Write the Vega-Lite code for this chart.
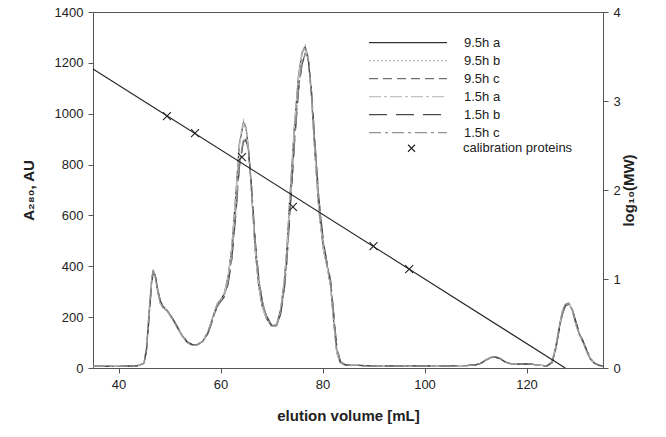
{
  "$schema": "https://vega.github.io/schema/vega-lite/v6.json",
  "width": 510,
  "height": 356,
  "autosize": "none",
  "padding": {"left": 93, "top": 12, "right": 63, "bottom": 69},
  "background": "white",
  "config": {
    "view": {"stroke": "#555", "strokeWidth": 1},
    "font": "Liberation Sans",
    "axis": {
      "domainColor": "#555", "tickColor": "#555", "tickSize": 5, "grid": false,
      "labelFont": "Liberation Sans", "labelFontSize": 13, "labelColor": "#222",
      "titleFont": "Liberation Sans", "titleFontSize": 15, "titleFontWeight": "bold", "titleColor": "#222",
      "labelPadding": 5
    },
    "legend": {
      "padding": 0, "title": null, "labelFont": "Liberation Sans", "labelFontSize": 13, "labelColor": "#222",
      "clipHeight": 17.3, "rowPadding": 0, "orient": "none"
    }
  },
  "layer": [
    {
      "data": {"values": [
        {"v":35,"a":6,"b":6,"c":6,"d":6,"e":6,"f":6},
        {"v":40,"a":6,"b":6,"c":6,"d":6,"e":6,"f":6},
        {"v":43,"a":8,"b":8,"c":8,"d":8,"e":8,"f":8},
        {"v":44,"a":10,"b":10,"c":10,"d":10,"e":10,"f":10},
        {"v":45,"a":20,"b":21,"c":18,"d":20,"e":18,"f":19},
        {"v":45.5,"a":80,"b":85,"c":70,"d":82,"e":68,"f":72},
        {"v":46,"a":220,"b":225,"c":200,"d":222,"e":198,"f":205},
        {"v":46.5,"a":350,"b":352,"c":335,"d":348,"e":332,"f":338},
        {"v":46.8,"a":385,"b":388,"c":375,"d":382,"e":372,"f":378},
        {"v":47.2,"a":360,"b":362,"c":365,"d":358,"e":366,"f":364},
        {"v":47.7,"a":300,"b":302,"c":310,"d":298,"e":312,"f":308},
        {"v":48.2,"a":255,"b":256,"c":262,"d":254,"e":264,"f":260},
        {"v":48.8,"a":236,"b":237,"c":240,"d":235,"e":241,"f":239},
        {"v":49.5,"a":225,"b":226,"c":228,"d":224,"e":229,"f":227},
        {"v":50.5,"a":195,"b":196,"c":198,"d":194,"e":199,"f":197},
        {"v":51.5,"a":160,"b":161,"c":163,"d":159,"e":164,"f":162},
        {"v":52.5,"a":125,"b":126,"c":128,"d":124,"e":129,"f":127},
        {"v":53.5,"a":100,"b":101,"c":102,"d":99,"e":103,"f":101},
        {"v":54.5,"a":90,"b":90,"c":91,"d":89,"e":92,"f":90},
        {"v":55.5,"a":92,"b":92,"c":92,"d":91,"e":93,"f":92},
        {"v":56.5,"a":105,"b":106,"c":103,"d":104,"e":103,"f":104},
        {"v":57.5,"a":140,"b":141,"c":135,"d":139,"e":134,"f":136},
        {"v":58.5,"a":200,"b":202,"c":192,"d":198,"e":190,"f":194},
        {"v":59.3,"a":250,"b":252,"c":242,"d":248,"e":240,"f":244},
        {"v":60,"a":268,"b":270,"c":262,"d":266,"e":260,"f":263},
        {"v":60.7,"a":290,"b":293,"c":280,"d":288,"e":278,"f":282},
        {"v":61.5,"a":360,"b":365,"c":335,"d":358,"e":330,"f":340},
        {"v":62.2,"a":470,"b":478,"c":430,"d":468,"e":425,"f":438},
        {"v":63,"a":680,"b":690,"c":610,"d":675,"e":600,"f":620},
        {"v":63.7,"a":880,"b":890,"c":800,"d":872,"e":790,"f":810},
        {"v":64.5,"a":965,"b":975,"c":895,"d":960,"e":890,"f":900},
        {"v":65,"a":945,"b":952,"c":900,"d":940,"e":895,"f":905},
        {"v":65.5,"a":860,"b":865,"c":850,"d":855,"e":848,"f":852},
        {"v":66,"a":720,"b":722,"c":740,"d":718,"e":742,"f":738},
        {"v":66.8,"a":464,"b":466,"c":500,"d":462,"e":505,"f":498},
        {"v":67.5,"a":320,"b":322,"c":350,"d":318,"e":355,"f":348},
        {"v":68.2,"a":240,"b":241,"c":260,"d":239,"e":262,"f":258},
        {"v":69,"a":195,"b":196,"c":205,"d":194,"e":206,"f":204},
        {"v":70,"a":165,"b":166,"c":168,"d":164,"e":169,"f":167},
        {"v":71,"a":170,"b":172,"c":165,"d":169,"e":164,"f":166},
        {"v":71.8,"a":230,"b":234,"c":215,"d":228,"e":212,"f":218},
        {"v":72.5,"a":340,"b":346,"c":310,"d":338,"e":305,"f":315},
        {"v":73,"a":464,"b":470,"c":420,"d":460,"e":415,"f":425},
        {"v":73.7,"a":700,"b":710,"c":640,"d":695,"e":632,"f":648},
        {"v":74.5,"a":950,"b":960,"c":890,"d":945,"e":882,"f":898},
        {"v":75.3,"a":1150,"b":1160,"c":1100,"d":1145,"e":1092,"f":1108},
        {"v":76,"a":1240,"b":1250,"c":1200,"d":1235,"e":1195,"f":1205},
        {"v":76.6,"a":1262,"b":1270,"c":1235,"d":1258,"e":1232,"f":1238},
        {"v":77.2,"a":1220,"b":1228,"c":1215,"d":1218,"e":1212,"f":1218},
        {"v":77.8,"a":1080,"b":1085,"c":1100,"d":1078,"e":1102,"f":1098},
        {"v":78.5,"a":850,"b":855,"c":890,"d":848,"e":895,"f":885},
        {"v":79.3,"a":620,"b":624,"c":660,"d":618,"e":665,"f":655},
        {"v":80.2,"a":464,"b":466,"c":490,"d":462,"e":494,"f":486},
        {"v":81,"a":390,"b":392,"c":400,"d":388,"e":402,"f":398},
        {"v":81.6,"a":320,"b":322,"c":340,"d":318,"e":344,"f":336},
        {"v":82.2,"a":180,"b":184,"c":210,"d":178,"e":214,"f":206},
        {"v":82.8,"a":60,"b":62,"c":80,"d":58,"e":84,"f":76},
        {"v":83.5,"a":20,"b":20,"c":25,"d":20,"e":26,"f":24},
        {"v":84.5,"a":12,"b":12,"c":12,"d":12,"e":12,"f":12},
        {"v":90,"a":8,"b":8,"c":8,"d":8,"e":8,"f":8},
        {"v":100,"a":8,"b":8,"c":8,"d":8,"e":8,"f":8},
        {"v":108,"a":9,"b":9,"c":9,"d":9,"e":9,"f":9},
        {"v":110,"a":12,"b":12,"c":12,"d":12,"e":12,"f":12},
        {"v":111,"a":18,"b":18,"c":18,"d":18,"e":18,"f":18},
        {"v":112,"a":32,"b":32,"c":30,"d":32,"e":30,"f":31},
        {"v":113,"a":42,"b":42,"c":40,"d":42,"e":40,"f":41},
        {"v":113.8,"a":45,"b":45,"c":43,"d":45,"e":43,"f":44},
        {"v":114.8,"a":38,"b":38,"c":37,"d":38,"e":37,"f":37},
        {"v":115.8,"a":24,"b":24,"c":24,"d":24,"e":24,"f":24},
        {"v":117,"a":16,"b":16,"c":16,"d":16,"e":16,"f":16},
        {"v":119,"a":15,"b":15,"c":15,"d":15,"e":15,"f":15},
        {"v":120.5,"a":17,"b":17,"c":16,"d":17,"e":16,"f":16},
        {"v":122,"a":12,"b":12,"c":12,"d":12,"e":12,"f":12},
        {"v":124,"a":8,"b":8,"c":8,"d":8,"e":8,"f":8},
        {"v":125,"a":25,"b":26,"c":20,"d":25,"e":20,"f":21},
        {"v":125.7,"a":80,"b":82,"c":70,"d":80,"e":68,"f":72},
        {"v":126.4,"a":160,"b":162,"c":150,"d":160,"e":148,"f":152},
        {"v":127,"a":220,"b":222,"c":210,"d":220,"e":208,"f":212},
        {"v":127.6,"a":250,"b":252,"c":245,"d":250,"e":244,"f":246},
        {"v":128.3,"a":255,"b":257,"c":252,"d":255,"e":251,"f":253},
        {"v":129,"a":225,"b":227,"c":230,"d":225,"e":231,"f":229},
        {"v":129.7,"a":170,"b":172,"c":180,"d":170,"e":182,"f":178},
        {"v":130.4,"a":130,"b":132,"c":135,"d":130,"e":136,"f":134},
        {"v":131.1,"a":100,"b":101,"c":105,"d":100,"e":106,"f":104},
        {"v":131.8,"a":65,"b":66,"c":70,"d":65,"e":71,"f":69},
        {"v":132.5,"a":35,"b":36,"c":40,"d":35,"e":41,"f":39},
        {"v":133.3,"a":18,"b":18,"c":20,"d":18,"e":20,"f":19},
        {"v":134.2,"a":10,"b":10,"c":11,"d":10,"e":11,"f":10},
        {"v":135,"a":8,"b":8,"c":8,"d":8,"e":8,"f":8}
      ]},
      "transform": [{"fold": ["a", "b", "c", "d", "e", "f"], "as": ["run", "A"]}],
      "mark": {"type": "line", "strokeWidth": 1.2, "clip": true},
      "encoding": {
        "x": {"field": "v", "type": "quantitative",
              "scale": {"domain": [35, 135], "nice": false, "zero": false},
              "axis": {"values": [40, 60, 80, 100, 120], "format": "d", "title": "elution volume [mL]", "titlePadding": 17}},
        "y": {"field": "A", "type": "quantitative",
              "scale": {"domain": [0, 1400], "nice": false},
              "axis": {"orient": "left", "values": [0, 200, 400, 600, 800, 1000, 1200, 1400], "format": "d", "title": "A₂₈₀, AU", "titlePadding": 18}},
        "color": {"field": "run", "type": "nominal",
                  "scale": {"domain": ["a", "b", "c", "d", "e", "f"], "range": ["#333333", "#b5b5b5", "#707070", "#c2c2c2", "#4a4a4a", "#939393"]},
                  "legend": {"labelExpr": "{'a':'9.5h a','b':'9.5h b','c':'9.5h c','d':'1.5h a','e':'1.5h b','f':'1.5h c'}[datum.label]",
                             "symbolType": "stroke", "symbolSize": 6084, "symbolStrokeWidth": 1.3,
                             "labelOffset": 16, "legendX": 275, "legendY": 22}},
        "strokeDash": {"field": "run", "type": "nominal",
                       "scale": {"domain": ["a", "b", "c", "d", "e", "f"], "range": [[1, 0], [2, 2], [9, 5], [12, 3, 3, 3], [18, 9], [12, 4, 3, 4]]},
                       "legend": {"labelExpr": "{'a':'9.5h a','b':'9.5h b','c':'9.5h c','d':'1.5h a','e':'1.5h b','f':'1.5h c'}[datum.label]",
                                  "symbolType": "stroke", "symbolSize": 6084, "symbolStrokeWidth": 1.3,
                                  "labelOffset": 16, "legendX": 275, "legendY": 22}}
      }
    },
    {
      "layer": [
        {
          "data": {"values": [{"v": 35, "L": 3.36}, {"v": 127.6, "L": 0}]},
          "mark": {"type": "line", "color": "#222", "strokeWidth": 1.1},
          "encoding": {
            "x": {"field": "v", "type": "quantitative"},
            "y": {"field": "L", "type": "quantitative",
                  "scale": {"domain": [0, 4], "nice": false},
                  "axis": {"orient": "right", "values": [0, 1, 2, 3, 4], "format": "d", "title": "log₁₀(MW)", "titleAngle": 270, "titlePadding": 16}}
          }
        },
        {
          "data": {"values": [
            {"v": 49.5, "L": 2.83}, {"v": 55, "L": 2.64}, {"v": 64.2, "L": 2.37},
            {"v": 74.2, "L": 1.81}, {"v": 90, "L": 1.37}, {"v": 97, "L": 1.11}
          ]},
          "mark": {"type": "point", "filled": false, "color": "#222", "strokeWidth": 1.1, "size": 64, "opacity": 1},
          "encoding": {
            "x": {"field": "v", "type": "quantitative"},
            "y": {"field": "L", "type": "quantitative"},
            "shape": {"datum": "calibration proteins", "type": "nominal",
                      "scale": {"range": ["M-1,-1L1,1M-1,1L1,-1"]},
                      "legend": {"symbolSize": 49, "symbolStrokeColor": "#222", "symbolStrokeWidth": 1.1,
                                 "labelOffset": 45, "legendX": 312, "legendY": 127.6}}
          }
        }
      ]
    }
  ],
  "resolve": {"scale": {"y": "independent", "color": "independent", "strokeDash": "independent", "shape": "independent"}}
}
